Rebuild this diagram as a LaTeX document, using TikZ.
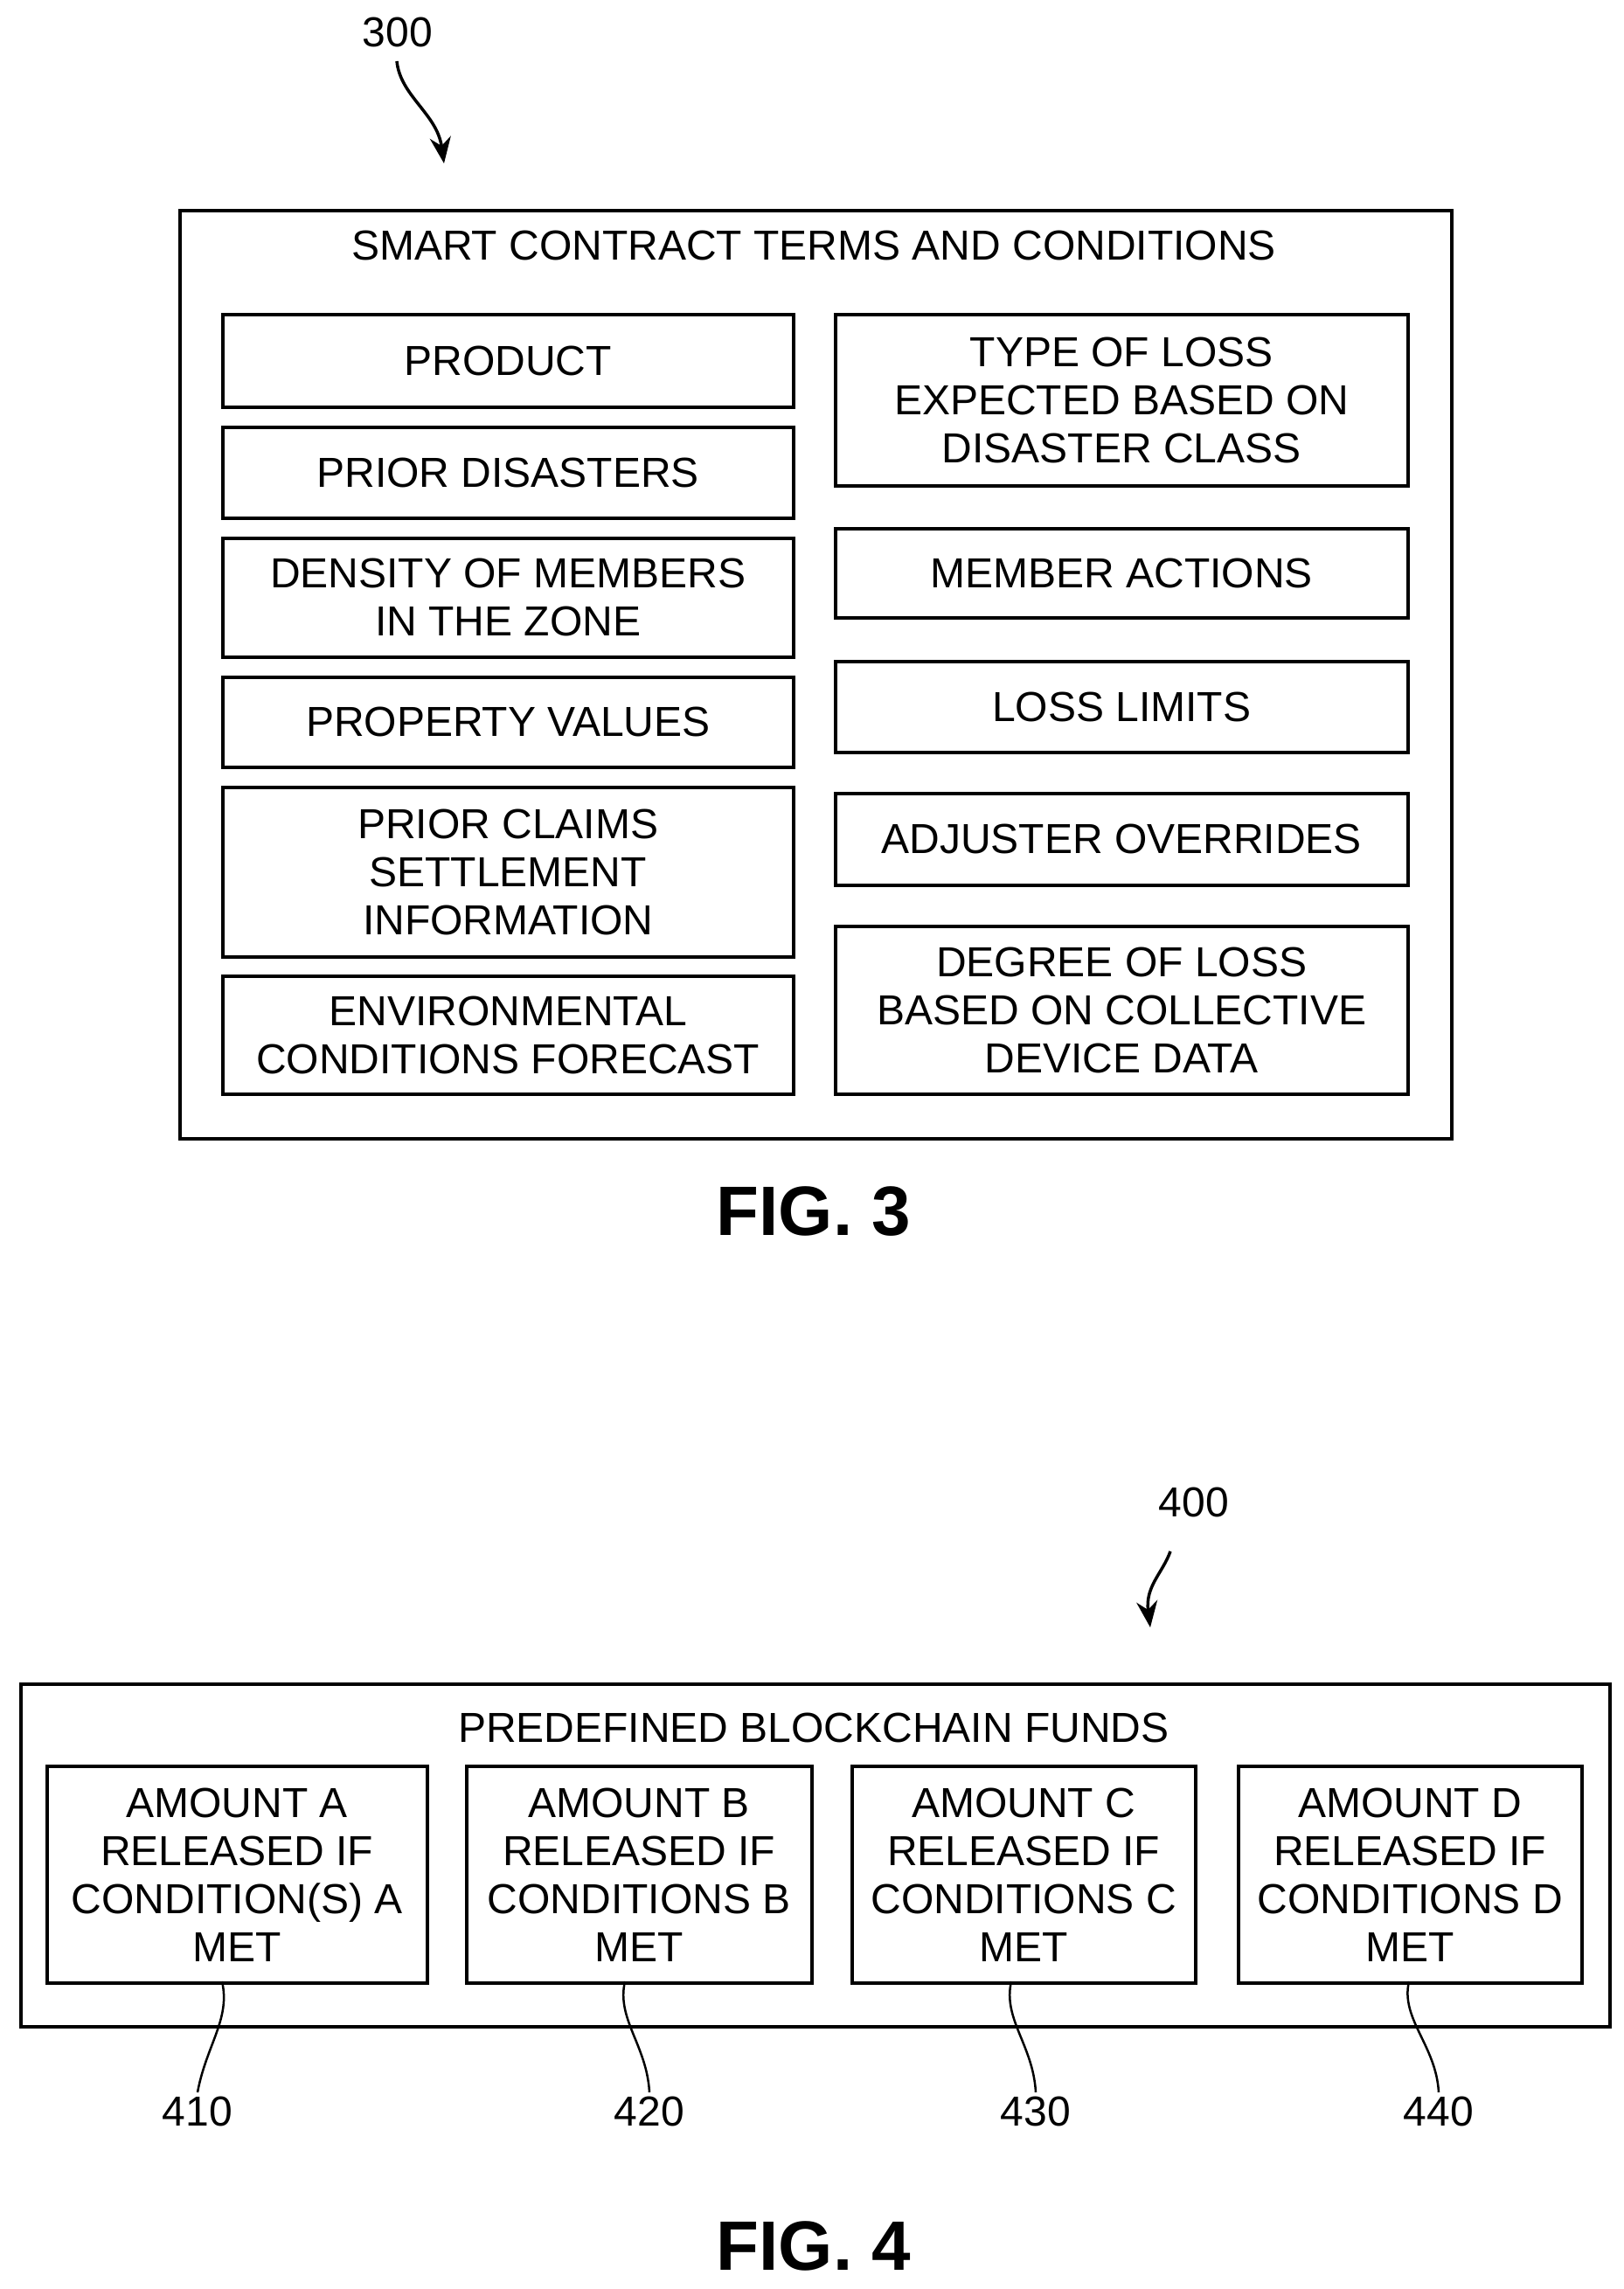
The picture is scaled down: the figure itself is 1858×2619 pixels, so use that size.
\documentclass[tikz,border=0pt]{standalone}
\usepackage{fontspec}
\setmainfont{Liberation Sans}
\usetikzlibrary{arrows.meta}
\begin{document}
\begin{tikzpicture}[x=1pt,y=-1pt,line width=3.5pt,
  bx/.style={draw,align=center,inner sep=0pt,font=\fontsize{48}{55}\selectfont},
  lbl/.style={font=\fontsize{48}{55}\selectfont},
  fig/.style={font=\fontsize{80}{90}\selectfont\bfseries}]
\useasboundingbox (0,0) rectangle (1858,2619);
% FIG 3
\node[draw,minimum width=1455pt,minimum height=1062pt,anchor=north west,inner sep=0pt] (outer3) at (204,239) {};
\node[lbl] (t3) at (931,281) {SMART CONTRACT TERMS AND CONDITIONS};
\newcommand\bb[6]{\node[bx,minimum width=#3pt,minimum height=#4pt,anchor=north west] (#1) at (#2,#5) {#6};}
\bb{p}{253}{653}{106}{358}{PRODUCT}
\bb{pd}{253}{653}{104}{487}{PRIOR DISASTERS}
\bb{dm}{253}{653}{136}{614}{DENSITY OF MEMBERS\\IN THE ZONE}
\bb{pv}{253}{653}{103}{773}{PROPERTY VALUES}
\bb{pc}{253}{653}{194}{899}{PRIOR CLAIMS\\SETTLEMENT\\INFORMATION}
\bb{ec}{253}{653}{135}{1115}{ENVIRONMENTAL\\CONDITIONS FORECAST}
\bb{tl}{954}{655}{196}{358}{TYPE OF LOSS\\EXPECTED BASED ON\\DISASTER CLASS}
\bb{ma}{954}{655}{102}{603}{MEMBER ACTIONS}
\bb{ll}{954}{655}{104}{755}{LOSS LIMITS}
\bb{ao}{954}{655}{105}{906}{ADJUSTER OVERRIDES}
\bb{dl}{954}{655}{192}{1058}{DEGREE OF LOSS\\BASED ON COLLECTIVE\\DEVICE DATA}
\node[lbl] (n300) at (455,37) {300};
\coordinate (a300) at (508,187);
\draw[-{Stealth[length=30pt,width=24pt]}] (454,70) .. controls (458,110) and (500,130) .. (a300);
\node[fig] (f3) at (931,1386) {FIG. 3};
% FIG 4
\node[draw,minimum width=1818pt,minimum height=392pt,anchor=north west,inner sep=0pt] (outer4) at (22,1925) {};
\node[lbl] (t4) at (931,1977) {PREDEFINED BLOCKCHAIN FUNDS};
\bb{a}{52}{435}{248}{2019}{AMOUNT A\\RELEASED IF\\CONDITION(S) A\\MET}
\bb{b}{532}{395}{248}{2019}{AMOUNT B\\RELEASED IF\\CONDITIONS B\\MET}
\bb{c}{973}{393}{248}{2019}{AMOUNT C\\RELEASED IF\\CONDITIONS C\\MET}
\bb{d}{1415}{393}{248}{2019}{AMOUNT D\\RELEASED IF\\CONDITIONS D\\MET}
\node[lbl] (n400) at (1366,1719) {400};
\coordinate (a400) at (1316,1862);
\draw[-{Stealth[length=30pt,width=24pt]}] (1339,1775) .. controls (1330,1800) and (1310,1815) .. (a400);
\node[lbl] (l410) at (226,2416) {410};
\node[lbl] (l420) at (743,2416) {420};
\node[lbl] (l430) at (1185,2416) {430};
\node[lbl] (l440) at (1646,2416) {440};
\draw[line width=2.5pt] (254,2267) .. controls (264,2310) and (236,2340) .. (l410.north);
\draw[line width=2.5pt] (715,2267) .. controls (705,2310) and (740,2340) .. (l420.north);
\draw[line width=2.5pt] (1157,2267) .. controls (1147,2310) and (1182,2340) .. (l430.north);
\draw[line width=2.5pt] (1612,2267) .. controls (1602,2310) and (1643,2340) .. (l440.north);
\node[fig] (f4) at (931,2570) {FIG. 4};
\end{tikzpicture}
\end{document}
